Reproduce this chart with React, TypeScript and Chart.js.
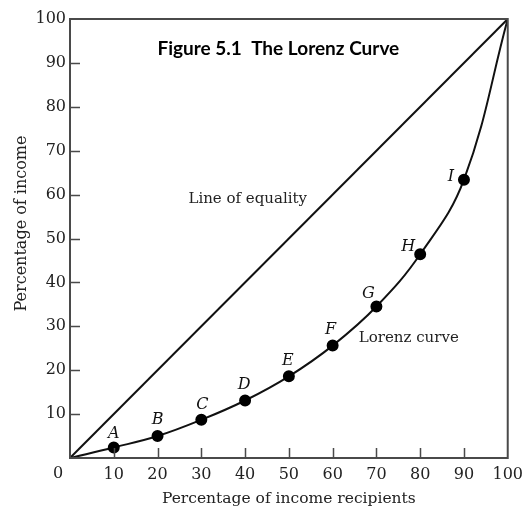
import React, { useEffect, useRef } from 'react';
import { Chart, registerables } from 'chart.js';

Chart.register(...registerables);

// ---- Data ----
const recipientShares = [0, 10, 20, 30, 40, 50, 60, 70, 80, 90, 100];
const incomeShares = [0, 2.4, 5.0, 8.7, 13.1, 18.6, 25.6, 34.5, 46.4, 63.4, 100];
const pointNames = ['', 'A', 'B', 'C', 'D', 'E', 'F', 'G', 'H', 'I', ''];
const equalityX = [0, 100];
const equalityY = [0, 100];
const innerTickValues = [10, 20, 30, 40, 50, 60, 70, 80, 90];

const chartTitle = 'Figure 5.1  The Lorenz Curve';
const xAxisTitle = 'Percentage of income recipients';
const yAxisTitle = 'Percentage of income';
const equalityLabel = 'Line of equality';
const lorenzLabel = 'Lorenz curve';

// label offsets (pixels) for point names
const nameOffsets: Record<string, [number, number]> = {
  A: [0, -14], B: [0, -16], C: [1, -15], D: [-1, -16], E: [-1, -16],
  F: [-2, -16], G: [-8, -13], H: [-12, -7], I: [-13, -3],
};

const SERIF = '"DejaVu Serif", "Liberation Serif", serif';
const TEXT = '#222';

const overlayPlugin = {
  id: 'lorenzOverlay',
  afterDraw(chart: any) {
    const { ctx, chartArea, scales } = chart;
    const xs = scales.x;
    const ys = scales.y;
    ctx.save();
    // frame
    ctx.strokeStyle = '#4a4a4a';
    ctx.lineWidth = 2;
    ctx.strokeRect(chartArea.left, chartArea.top, chartArea.right - chartArea.left, chartArea.bottom - chartArea.top);
    // inner ticks
    ctx.lineWidth = 1.5;
    ctx.beginPath();
    innerTickValues.forEach((v) => {
      const px = Math.round(xs.getPixelForValue(v)) + 0.5;
      ctx.moveTo(px, chartArea.bottom);
      ctx.lineTo(px, chartArea.bottom - 10);
      const py = Math.round(ys.getPixelForValue(v)) + 0.5;
      ctx.moveTo(chartArea.left, py);
      ctx.lineTo(chartArea.left + 10, py);
    });
    ctx.stroke();
    // origin label
    ctx.fillStyle = TEXT;
    ctx.font = `16px ${SERIF}`;
    ctx.textAlign = 'center';
    ctx.textBaseline = 'middle';
    ctx.fillText('0', xs.getPixelForValue(0) - 12, chartArea.bottom + 16);
    // y axis title
    ctx.save();
    ctx.translate(22, (chartArea.top + chartArea.bottom) / 2 - 15);
    ctx.rotate(-Math.PI / 2);
    ctx.fillText(yAxisTitle, 0, 0);
    ctx.restore();
    // point names
    ctx.fillStyle = '#111';
    ctx.font = `italic 16px ${SERIF}`;
    pointNames.forEach((name, i) => {
      if (!name) return;
      const off = nameOffsets[name] || [0, -15];
      ctx.fillText(name, xs.getPixelForValue(recipientShares[i]) + off[0], ys.getPixelForValue(incomeShares[i]) + off[1]);
    });
    // annotations
    ctx.font = `15px ${SERIF}`;
    ctx.fillStyle = TEXT;
    ctx.fillText(equalityLabel, xs.getPixelForValue(40.6), ys.getPixelForValue(59.0));
    ctx.fillText(lorenzLabel, xs.getPixelForValue(77.4), ys.getPixelForValue(27.2));
    // title
    ctx.font = 'bold 19px Lato, "Open Sans", sans-serif';
    ctx.fillStyle = '#000';
    ctx.fillText(chartTitle, xs.getPixelForValue(47.6), ys.getPixelForValue(93.1));
    ctx.restore();
  },
};

export default function App() {
  const canvasRef = useRef<HTMLCanvasElement | null>(null);

  useEffect(() => {
    if (!canvasRef.current) return;
    const chart = new Chart(canvasRef.current, {
      type: 'scatter',
      data: {
        datasets: [
          {
            label: equalityLabel,
            data: equalityX.map((x, i) => ({ x, y: equalityY[i] })),
            showLine: true,
            borderColor: '#111',
            borderWidth: 2,
            pointRadius: 0,
          },
          {
            label: lorenzLabel,
            data: recipientShares.map((x, i) => ({ x, y: incomeShares[i] })),
            showLine: true,
            borderColor: '#111',
            backgroundColor: '#000',
            borderWidth: 2,
            tension: 0.4,
            pointRadius: pointNames.map((n) => (n ? 5 : 0)),
            pointBackgroundColor: '#000',
            pointBorderColor: '#000',
          },
        ],
      },
      options: {
        animation: false,
        responsive: false,
        maintainAspectRatio: false,
        layout: { padding: { top: 19, right: 21, left: 0, bottom: 0 } },
        plugins: {
          legend: { display: false },
          tooltip: { enabled: false },
          title: { display: false },
        },
        scales: {
          x: {
            type: 'linear',
            min: 0,
            max: 100,
            grid: { display: false, drawTicks: false },
            border: { display: false },
            ticks: {
              stepSize: 10,
              padding: 7,
              color: TEXT,
              font: { family: SERIF, size: 16 },
              maxRotation: 0,
              callback: (v: any) => (v === 0 ? '' : String(v)),
            },
            title: {
              display: true,
              text: xAxisTitle,
              color: TEXT,
              font: { family: SERIF, size: 15.5 },
              padding: { top: 2, bottom: 0 },
            },
            afterFit: (s: any) => { s.height = 50; },
          },
          y: {
            type: 'linear',
            min: 0,
            max: 100,
            grid: { display: false, drawTicks: false },
            border: { display: false },
            ticks: {
              stepSize: 10,
              padding: 4,
              color: TEXT,
              font: { family: SERIF, size: 16 },
              callback: (v: any) => (v === 0 ? '' : String(v)),
            },
            afterFit: (s: any) => { s.width = 70; },
          },
        },
      } as any,
      plugins: [overlayPlugin],
    });
    return () => chart.destroy();
  }, []);

  return (
    <div style={{ position: 'fixed', left: 0, top: 0, width: 530, height: 508, background: '#fff' }}>
      <canvas ref={canvasRef} width={530} height={508} style={{ display: 'block', width: 530, height: 508 }} />
    </div>
  );
}
